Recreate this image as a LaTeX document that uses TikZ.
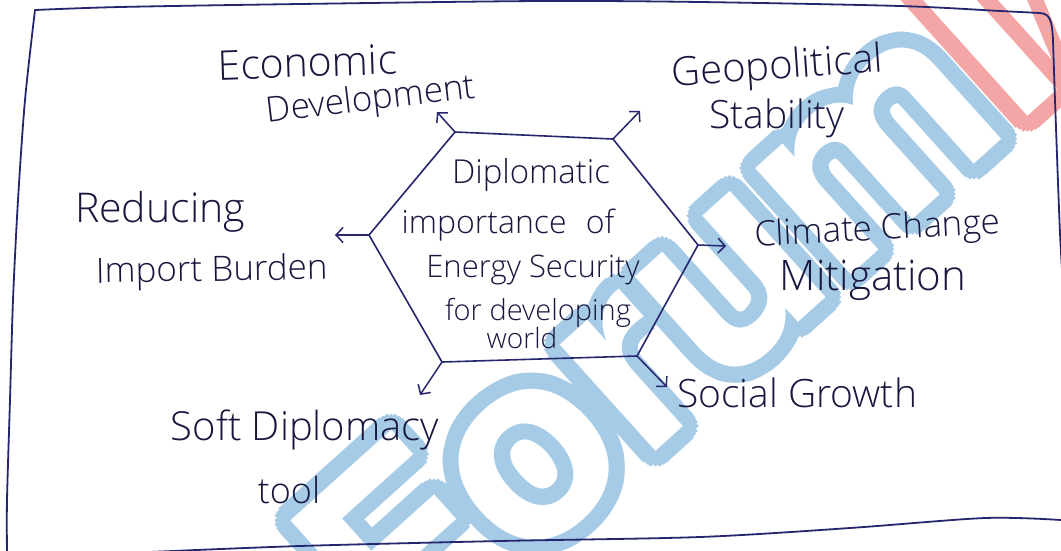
\documentclass[tikz,border=0pt]{standalone}
\usepackage{fontspec}
\setmainfont{Open Sans}[UprightFont={* Light}]
\newfontfamily\wmfont{TeX Gyre Heros}
\usetikzlibrary{arrows.meta}
\definecolor{ink}{HTML}{17173F}
\definecolor{pen}{HTML}{26266E}
\definecolor{wmblue}{HTML}{A6CBE7}
\definecolor{wmred}{HTML}{F4A6A6}

\begin{document}
\begin{tikzpicture}[x=1pt,y=-1pt,
  hand/.style={text=ink, inner sep=0pt, anchor=base,
    font=\fontsize{#1}{#1}\selectfont},
  hand/.default=39,
  edge/.style={draw=pen, line width=1.6pt, line join=round},
  spoke/.style={draw=pen, line width=1.5pt,
    -{Straight Barb[length=7pt,width=15pt,line width=1.5pt]}},
  frame/.style={draw=pen, line width=1.8pt, line join=round, line cap=round},
  wmark/.style={inner sep=0pt, anchor=base east, rotate=42,
    font=\wmfont\bfseries\fontsize{265}{265}\selectfont}]
\useasboundingbox (0,0) rectangle (1061,550);
\fill[white] (0,0) rectangle (1061,550);

% background watermark lettering: coloured rim, white inside
\coordinate (wmbase) at (1015,128);
\foreach \a in {0,15,...,345}{
  \node[wmark, text=wmblue] (wmA\a) at ([shift={(\a:16)}]wmbase) {Forum};
  \node[wmark, anchor=base west, text=wmred] (wmB\a) at ([shift={(\a:16)}]wmbase) {IAS};
}
\node[wmark, text=white] (wmA) at (wmbase) {Forum};
\node[wmark, anchor=base west, text=white] (wmB) at (wmbase) {IAS};

% hand-drawn border
\draw[frame] plot[smooth] coordinates {(7,552) (7,500) (10,400) (13,300) (18,200) (25,100) (35,10)};
\draw[frame] plot[smooth] coordinates {(35,10) (120,7) (300,4) (540,1) (700,2) (900,6) (1000,11) (1040,13)}
  .. controls (1050,14) and (1052,20) .. (1053,40)
  plot[smooth] coordinates {(1053,40) (1055,100) (1060,233) (1064,300)};
\draw[frame] plot[smooth] coordinates {(150,552) (300,546) (500,541) (700,537) (850,528) (985,518) (1061,520)};

% hexagon corners
\coordinate (v1) at (455,132);
\coordinate (v2) at (613,139);
\coordinate (v3) at (698,245);
\coordinate (v4) at (637,356);
\coordinate (v5) at (442,362);
\coordinate (v6) at (369,235);
\draw[edge] (v1) -- (v2) -- (v3) -- (v4) -- (v5) -- (v6) -- cycle;

% arrow ends
\coordinate (t1) at (437,112);
\coordinate (t2) at (640,111);
\coordinate (t3) at (726,246);
\coordinate (t4) at (667,387);
\coordinate (t5) at (420,395);
\coordinate (t6) at (335,235);
\draw[spoke] (v1) -- (t1);
\draw[spoke] (v2) -- (t2);
\draw[spoke] (v3) -- (t3);
\draw[spoke] (v4) -- (t4);
\draw[spoke] (v5) -- (t5);
\draw[spoke] (v6) -- (t6);

% central text
\node[hand=33] (c1) at (531,183) {Diplomatic};
\node[hand=32] (c2) at (508,233) {importance\hspace{0.6em}of};
\node[hand=31] (c3) at (533,277) {Energy Security};
\node[hand=29] (c4) at (538,320) {for developing};
\node[hand=28] (c5) at (522,348) {world};

% outer labels
\node[hand=41, rotate=2] (econA) at (308,77) {Economic};
\node[hand=35, rotate=6.7] (econB) at (372,110) {Development};
\node[hand=40, rotate=4] (geoA) at (778,79) {Geopolitical};
\node[hand=39] (geoB) at (777,128) {Stability};
\node[hand=41] (redA) at (160,222) {Reducing};
\node[hand=35, rotate=1] (redB) at (212,281) {Import Burden};
\node[hand=35, rotate=3] (cliA) at (878,240) {Climate Change};
\node[hand=42] (cliB) at (873,290) {Mitigation};
\node[hand=39] (soc) at (797,407) {Social Growth};
\node[hand=40] (softA) at (305,440) {Soft Diplomacy};
\node[hand=36] (softB) at (289,503) {tool};
\end{tikzpicture}
\end{document}
